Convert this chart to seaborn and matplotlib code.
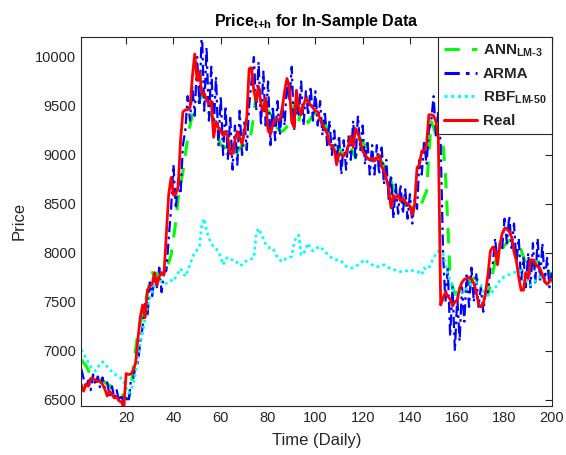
import numpy as np
import pandas as pd
import matplotlib
matplotlib.use("Agg")
import matplotlib.pyplot as plt
import seaborn as sns

# Daily index of the in-sample window
days = list(range(1, 201))

real = [
    6660, 6590, 6660, 6640, 6720, 6715, 6705, 6690, 6690, 6660,
    6610, 6540, 6590, 6555, 6520, 6530, 6490, 6480, 6420, 6770,
    6760, 6765, 6800, 6880, 7130, 7350, 7470, 7340, 7620, 7660,
    7680, 7800, 7670, 7760, 7800, 7780, 8200, 8600, 8770, 8590,
    8600, 8680, 9150, 9440, 9460, 9460, 9480, 9800, 10030, 9760,
    9850, 9620, 9630, 9560, 9520, 9550, 9180, 9340, 9280, 9240,
    9200, 9240, 9180, 9010, 9020, 9150, 9240, 9180, 9110, 9240,
    9380, 9880, 9890, 9650, 9550, 9700, 9520, 9450, 9580, 9250,
    9210, 9310, 9360, 9360, 9360, 9480, 9650, 9780, 9690, 9340,
    9280, 9660, 9480, 9410, 9510, 9580, 9540, 9510, 9480, 9450,
    9440, 9360, 9310, 9260, 9220, 9110, 9090, 9060, 8900, 9010,
    9000, 8990, 9020, 9100, 9190, 9080, 9270, 9220, 9140, 9040,
    9000, 8970, 8950, 8970, 8940, 8960, 9000, 8880, 8840, 8760,
    8660, 8460, 8590, 8560, 8590, 8530, 8560, 8520, 8500, 8480,
    8390, 8500, 8870, 8900, 9040, 9040, 9100, 9410, 9410, 9400,
    9340, 9170, 7470, 7540, 7600, 7560, 7530, 7460, 7500, 7520,
    7640, 7700, 7730, 7740, 7750, 7730, 7690, 7610, 7480, 7450,
    7480, 7600, 7780, 8020, 8060, 8030, 7880, 8080, 8200, 8250,
    8240, 8220, 8160, 8010, 7920, 7750, 7620, 7620, 7800, 7740,
    7930, 7930, 7890, 7860, 7840, 7780, 7710, 7680, 7710, 7740,
]

ann_lm3 = [
    6910, 6880, 6850, 6800, 6760, 6740, 6730, 6720, 6710, 6700,
    6680, 6660, 6650, 6630, 6620, 6610, 6600, 6570, 6540, 6510,
    6510, 6600, 6840, 7020, 7200, 7290, 7370, 7490, 7600, 7700,
    7800, 7760, 7790, 7770, 7780, 7800, 7810, 7900, 7980, 8150,
    8320, 8560, 8700, 8830, 9000, 9170, 9300, 9410, 9460, 9510,
    9560, 9610, 9600, 9580, 9500, 9410, 9330, 9250, 9170, 9100,
    9090, 9080, 9070, 9040, 9020, 9000, 9030, 9070, 9100, 9100,
    9100, 9100, 9250, 9410, 9630, 9610, 9580, 9530, 9480, 9450,
    9420, 9390, 9330, 9270, 9250, 9240, 9260, 9290, 9310, 9410,
    9510, 9420, 9340, 9480, 9430, 9380, 9330, 9370, 9400, 9440,
    9430, 9420, 9410, 9340, 9260, 9190, 9140, 9100, 9090, 9070,
    9030, 8985, 9010, 9040, 9070, 9020, 8970, 9070, 9170, 9130,
    9100, 9070, 9060, 9050, 9040, 9000, 8970, 8930, 8900, 8840,
    8790, 8730, 8660, 8600, 8530, 8520, 8510, 8500, 8490, 8470,
    8450, 8440, 8420, 8460, 8510, 8570, 8630, 9000, 9340, 9280,
    9210, 9170, 9130, 9100, 8800, 8300, 7740, 7660, 7580, 7600,
    7610, 7630, 7650, 7680, 7710, 7740, 7740, 7740, 7720, 7710,
    7690, 7630, 7570, 7680, 7800, 7910, 7960, 8010, 8040, 8080,
    8100, 8130, 8130, 8130, 8120, 8110, 8030, 7960, 7880, 7800,
    7840, 7880, 7910, 7910, 7910, 7910, 7870, 7840, 7800, 7760,
]

arma = [
    6820, 6720, 6620, 6700, 6600, 6760, 6650, 6740, 6620, 6730,
    6620, 6680, 6540, 6640, 6520, 6600, 6480, 6560, 6450, 6520,
    6480, 6700, 6720, 6850, 6880, 7100, 7250, 7480, 7350, 7700,
    7560, 7750, 7650, 7850, 7600, 7800, 7820, 8150, 8450, 8900,
    8450, 8750, 8600, 9100, 9250, 9600, 9350, 9700, 9400, 10000,
    9500, 10300, 9450, 10100, 9350, 9900, 9250, 9800, 9100, 9600,
    9000, 9500, 8950, 9400, 8850, 9300, 8900, 9450, 9000, 9350,
    9050, 9500, 9750, 10000, 9450, 9950, 9300, 9850, 9300, 9750,
    9100, 9500, 9150, 9550, 9200, 9500, 9300, 9750, 9550, 9900,
    9250, 9500, 9400, 9750, 9300, 9650, 9400, 9700, 9350, 9650,
    9300, 9550, 9200, 9450, 9100, 9350, 9000, 9250, 8900, 9200,
    8800, 9150, 8850, 9200, 8950, 9350, 8950, 9400, 9050, 9300,
    8900, 9150, 8800, 9100, 8800, 9100, 8800, 9100, 8700, 8950,
    8550, 8800, 8350, 8700, 8400, 8700, 8400, 8650, 8350, 8600,
    8300, 8550, 8450, 8950, 8800, 9150, 8900, 9250, 9350, 9600,
    9200, 9450, 9100, 8000, 7500, 7850, 7150, 7650, 7000, 7550,
    7100, 7650, 7300, 7800, 7450, 7850, 7500, 7800, 7450, 7650,
    7400, 7600, 7600, 7850, 7880, 8150, 7900, 8100, 8050, 8350,
    8100, 8380, 8050, 8300, 7900, 8150, 7700, 7950, 7650, 8000,
    7650, 8100, 7700, 8150, 7700, 8100, 7700, 7950, 7650, 7800,
]

rbf_lm50 = [
    7013, 6970, 6930, 6880, 6840, 6810, 6795, 6830, 6870, 6890,
    6860, 6840, 6810, 6790, 6770, 6750, 6740, 6720, 6700, 6620,
    6570, 6600, 6670, 6780, 6950, 7080, 7200, 7330, 7450, 7540,
    7600, 7670, 7700, 7740, 7700, 7690, 7690, 7700, 7720, 7710,
    7760, 7800, 7840, 7800, 7760, 7820, 7880, 7960, 8000, 8030,
    8060, 8290, 8350, 8230, 8150, 8100, 8060, 8040, 8020, 7950,
    7880, 7940, 7950, 7930, 7930, 7930, 7900, 7870, 7880, 7910,
    7920, 7930, 7940, 7950, 8200, 8250, 8200, 8150, 8090, 8060,
    8050, 8050, 8000, 7950, 7930, 7910, 7930, 7950, 7955, 7965,
    8100, 8170, 8180, 7980, 7990, 8050, 8100, 8040, 8020, 8040,
    8055, 8065, 8040, 8020, 7990, 7965, 7950, 7935, 7930, 7930,
    7915, 7890, 7865, 7850, 7845, 7855, 7860, 7880, 7895, 7915,
    7930, 7910, 7895, 7880, 7865, 7860, 7865, 7870, 7880, 7865,
    7850, 7840, 7830, 7825, 7815, 7810, 7810, 7812, 7820, 7828,
    7820, 7815, 7810, 7800, 7780, 7846, 7830, 7846, 7900, 7950,
    7990, 8020, 8000, 7990, 7900, 7780, 7720, 7640, 7580, 7570,
    7590, 7610, 7620, 7635, 7660, 7685, 7695, 7700, 7690, 7670,
    7620, 7570, 7570, 7580, 7610, 7640, 7680, 7720, 7740, 7760,
    7770, 7780, 7790, 7800, 7805, 7815, 7820, 7780, 7740, 7700,
    7670, 7690, 7715, 7740, 7755, 7740, 7720, 7705, 7703, 7703,
]

x_ticks = [20, 40, 60, 80, 100, 120, 140, 160, 180, 200]
y_ticks = [6500, 7000, 7500, 8000, 8500, 9000, 9500, 10000]

df = pd.DataFrame({
    "day": days,
    "ann": ann_lm3,
    "arma": arma,
    "rbf": rbf_lm50,
    "real": real,
})

sns.set_style("white")
plt.rcParams["font.family"] = ["Liberation Sans", "DejaVu Sans"]
# subscripts in the title and legend are bold like the surrounding text
plt.rcParams["mathtext.fontset"] = "custom"
plt.rcParams["mathtext.rm"] = "Liberation Sans:bold"
plt.rcParams["mathtext.bf"] = "Liberation Sans:bold"
plt.rcParams["mathtext.it"] = "Liberation Sans:bold"

fig = plt.figure(figsize=(5.66, 4.55), dpi=100)
ax = fig.add_axes([0.1435, 0.108, 0.8315, 0.811])

sns.lineplot(data=df, x="day", y="ann", ax=ax, color="#00ff00", lw=2.2,
             label=r"ANN$_{\text{LM-3}}$")
ax.lines[-1].set_dashes([5, 4])
sns.lineplot(data=df, x="day", y="arma", ax=ax, color="#0000ff", lw=1.6,
             label="ARMA")
ax.lines[-1].set_dashes([5, 2, 1.2, 2])
sns.lineplot(data=df, x="day", y="rbf", ax=ax, color="#00ffff", lw=2.0,
             label=r"RBF$_{\text{LM-50}}$")
ax.lines[-1].set_dashes([1, 1.2])
sns.lineplot(data=df, x="day", y="real", ax=ax, color="#ff0000", lw=2.0,
             label="Real")

ax.set_xlim(1, 200)
ax.set_ylim(6440, 10205)
ax.set_xticks(x_ticks)
ax.set_xticklabels([str(t) for t in x_ticks])
ax.set_yticks(y_ticks)
ax.set_yticklabels([str(t) for t in y_ticks])

ax.tick_params(axis="both", direction="in", length=5, width=0.8,
               colors="#262626", labelsize=10.5, top=True, right=True,
               labelcolor="#262626")
for side in ["left", "bottom", "top", "right"]:
    ax.spines[side].set_visible(True)
    ax.spines[side].set_color("#262626")
    ax.spines[side].set_linewidth(0.8)

ax.set_xlabel("Time (Daily)", fontsize=12, color="#262626", labelpad=6)
ax.set_ylabel("Price", fontsize=12, color="#262626", labelpad=6)
ax.set_title(r"Price$_{\text{t+h}}$ for In-Sample Data", fontsize=11.5,
             fontweight="bold", color="black", pad=8)

leg = ax.legend(loc="upper right", borderaxespad=0, fancybox=False,
                framealpha=1, edgecolor="#262626", handlelength=2.2,
                prop={"weight": "bold", "size": 11}, labelspacing=0.55,
                borderpad=0.35, handletextpad=0.35)
leg.get_frame().set_linewidth(0.8)
for ln in leg.get_lines():
    ln.set_linewidth(2.2)

fig.savefig("out.png", dpi=100)
